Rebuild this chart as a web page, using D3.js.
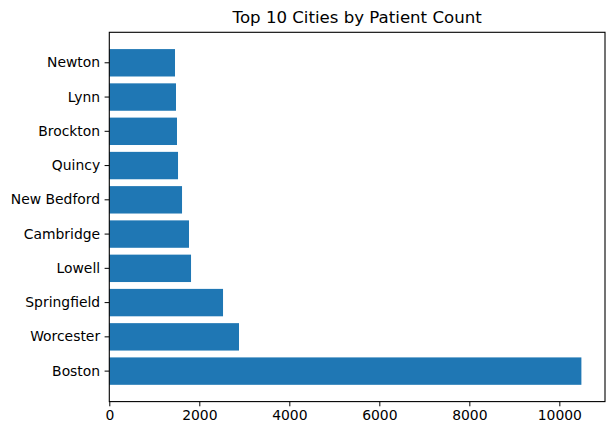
<!DOCTYPE html>
<html>
<head>
<meta charset="utf-8">
<script src="https://cdn.jsdelivr.net/npm/d3@7"></script>
<style>
  body { margin: 0; background: #fff; }
  text { font-family: "DejaVu Sans", sans-serif; fill: #000; }
</style>
</head>
<body>
<script>
// Data (top of chart first)
let cities = ['Newton', 'Lynn', 'Brockton', 'Quincy', 'New Bedford',
              'Cambridge', 'Lowell', 'Springfield', 'Worcester', 'Boston'];
let counts = [1460, 1482, 1504, 1527, 1616, 1771, 1816, 2527, 2882, 10490];
let xTicks = [0, 2000, 4000, 6000, 8000, 10000];

let data = cities.map((c, i) => ({ city: c, count: counts[i] }));

let width = 615, height = 435;
let margin = { top: 32.3, bottom: 33.4, left: 109.3, right: 10 };

let svg = d3.select('body')
  .append('svg')
  .attr('width', width)
  .attr('height', height);

// scales
let xScale = d3.scaleLinear()
  .domain([0, d3.max(counts) * 1.05])
  .range([margin.left, width - margin.right]);

let yScale = d3.scaleBand()
  .domain(cities)
  .range([margin.top, height - margin.bottom])
  .paddingInner(0.2)
  .paddingOuter(0.49);

// bars
svg.selectAll('rect.bar')
  .data(data)
  .enter()
  .append('rect')
  .attr('class', 'bar')
  .attr('x', xScale(0))
  .attr('y', d => yScale(d.city))
  .attr('width', d => xScale(d.count) - xScale(0))
  .attr('height', yScale.bandwidth())
  .attr('fill', '#1f77b4');

// axes
let xAxis = svg.append('g')
  .attr('transform', `translate(0,${height - margin.bottom})`)
  .call(d3.axisBottom(xScale).tickValues(xTicks).tickFormat(d3.format('d'))
    .tickSize(4.7).tickPadding(4.2));

let yAxis = svg.append('g')
  .attr('transform', `translate(${margin.left},0)`)
  .call(d3.axisLeft(yScale).tickSize(4.7).tickPadding(4.5));

[xAxis, yAxis].forEach(g => {
  g.select('.domain').remove();
  g.selectAll('.tick line').attr('stroke', '#000').attr('stroke-width', 1);
  g.selectAll('.tick text')
    .style('font-family', '"DejaVu Sans", sans-serif')
    .style('font-size', '13.9px')
    .attr('fill', '#000');
});

// frame (spines)
svg.append('rect')
  .attr('x', margin.left)
  .attr('y', margin.top)
  .attr('width', width - margin.right - margin.left)
  .attr('height', height - margin.bottom - margin.top)
  .attr('fill', 'none')
  .attr('stroke', '#000')
  .attr('stroke-width', 1.1);

// title
svg.append('text')
  .attr('x', (margin.left + width - margin.right) / 2)
  .attr('y', 23)
  .attr('text-anchor', 'middle')
  .style('font-size', '16.6px')
  .text('Top 10 Cities by Patient Count');
</script>
</body>
</html>
